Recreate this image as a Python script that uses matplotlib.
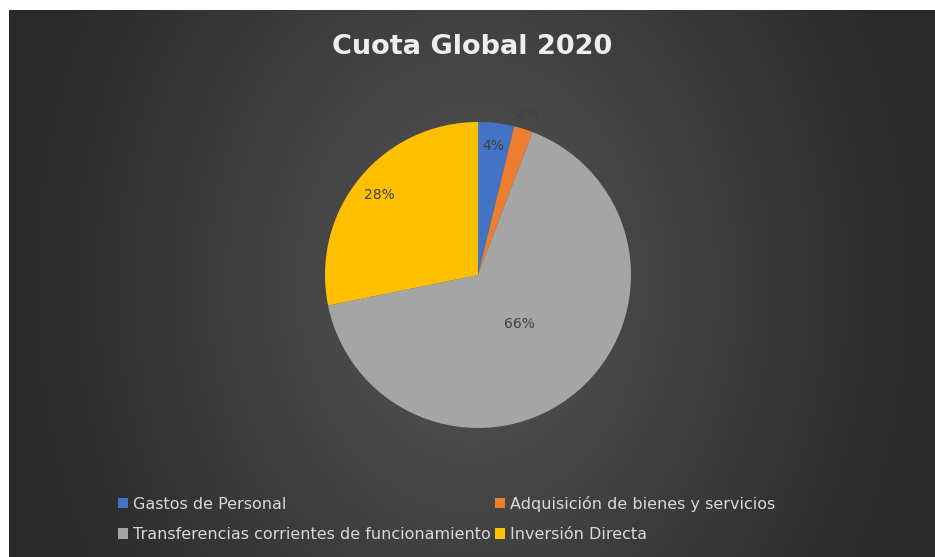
import numpy as np
import matplotlib
matplotlib.use('Agg')
import matplotlib.pyplot as plt
from matplotlib.colors import LinearSegmentedColormap

categorias = ['Gastos de Personal', 'Adquisición de bienes y servicios',
              'Transferencias corrientes de funcionamiento', 'Inversión Directa']
valores = [3.8, 2.0, 66.0, 28.2]
etiquetas = ['4%', '2%', '66%', '28%']
colores = ['#4472C4', '#ED7D31', '#A5A5A5', '#FFC000']
# distance of each % label from the pie centre (Excel "best fit" placement)
dist_etiquetas = [0.85, 1.1, 0.42, 0.83]

W, H = 935, 557
fig = plt.figure(figsize=(W / 100, H / 100), dpi=100)
fig.patch.set_facecolor('white')

# dark gradient background (leaves a thin white margin top/left like the screenshot)
bg = fig.add_axes([9 / W, 0, 1 - 9 / W, 1 - 10 / H])
gx, gy = np.meshgrid(np.linspace(-1, 1, 400), np.linspace(-1, 1, 240))
d = np.sqrt((gx / 1.0) ** 2 + (gy / 2.2) ** 2)
grad = np.clip(1 - d, 0, 1) ** 1.1
cmap = LinearSegmentedColormap.from_list('bg', ['#2a2a2a', '#565656'])
bg.imshow(grad, cmap=cmap, aspect='auto', extent=[0, 1, 0, 1], interpolation='bicubic')
bg.set_axis_off()

# pie
cx, cy, r = 478, 275, 153
ax = fig.add_axes([(cx - r) / W, 1 - (cy + r) / H, 2 * r / W, 2 * r / H])
wedges, _ = ax.pie(valores, colors=colores, startangle=90, counterclock=False,
                   wedgeprops=dict(linewidth=0))
ax.set_xlim(-1, 1)
ax.set_ylim(-1, 1)
ax.set_aspect('equal')
ax.set_axis_off()

for w, txt, dist in zip(wedges, etiquetas, dist_etiquetas):
    ang = np.deg2rad((w.theta1 + w.theta2) / 2)
    ax.text(dist * np.cos(ang), dist * np.sin(ang), txt, ha='center', va='center',
            fontsize=10, color='#404040')

fig.text((9 + W) / 2 / W, 1 - 47 / H, 'Cuota Global 2020', ha='center', va='center',
         fontsize=19.5, fontweight='bold', color='#eeeeee')

# legend is filled row by row in the reference
orden = [0, 2, 1, 3]
leg = fig.legend([wedges[i] for i in orden], [categorias[i] for i in orden], ncol=2,
                 loc='center left', bbox_to_anchor=(104 / W, 1 - 519 / H), frameon=False,
                 prop={'size': 11.5},
                 labelcolor='#d9d9d9', handlelength=0.6, handleheight=0.6,
                 handletextpad=0.3, columnspacing=0.3, labelspacing=0.95)

fig.savefig('out.png', dpi=100, facecolor=fig.get_facecolor())
